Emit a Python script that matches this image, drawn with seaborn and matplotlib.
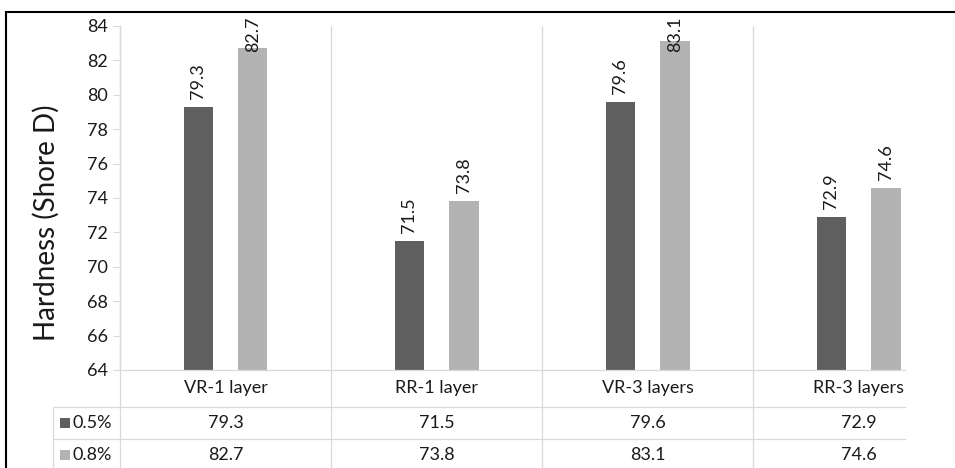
import matplotlib
matplotlib.use("Agg")
import matplotlib.pyplot as plt
import matplotlib.transforms as mtransforms
from matplotlib.patches import Rectangle
import seaborn as sns
import pandas as pd

# Data
categories = ["VR-1 layer", "RR-1 layer", "VR-3 layers", "RR-3 layers"]
series_names = ["0.5%", "0.8%"]
values_05 = [79.3, 71.5, 79.6, 72.9]
values_08 = [82.7, 73.8, 83.1, 74.6]
y_ticks = [64, 66, 68, 70, 72, 74, 76, 78, 80, 82, 84]

colors = ["#5f5f5f", "#b3b3b3"]
grid_color = "#d9d9d9"
text_color = "#1a1a1a"

df = pd.DataFrame({
    "category": categories * 2,
    "series": [series_names[0]] * 4 + [series_names[1]] * 4,
    "value": values_05 + values_08,
})

sns.set_theme(style="white")
plt.rcParams["font.family"] = ["Lato", "DejaVu Sans"]

W, H = 955, 468
fig = plt.figure(figsize=(W / 100, H / 100), dpi=100)
ax_left, ax_right, ax_top, ax_bottom = 120, 905, 26, 370
ax = fig.add_axes([ax_left / W, 1 - ax_bottom / H,
                   (ax_right - ax_left) / W, (ax_bottom - ax_top) / H])

sns.barplot(data=df, x="category", y="value", hue="series", order=categories,
            hue_order=series_names, palette=colors, width=0.52, gap=0.47,
            saturation=1, ax=ax, legend=False, edgecolor="none")

ax.set_ylim(64, 84)
ax.set_xlim(-0.5, 3.22)
ax.set_yticks(y_ticks)
ax.set_yticklabels([str(t) for t in y_ticks], fontsize=13, color=text_color)
ax.tick_params(axis="y", length=5, width=0.8, color=grid_color, pad=4, left=True)
ax.tick_params(axis="x", length=0, pad=7, labelsize=13, labelcolor=text_color)
ax.set_xlabel("")
ax.set_ylabel("")
fig.text(46 / W, 1 - 223 / H, "Hardness (Shore D)", rotation=90, ha="center",
         va="center", fontsize=20, color=text_color)

for side in ["top", "right"]:
    ax.spines[side].set_visible(False)
for side in ["left", "bottom"]:
    ax.spines[side].set_color(grid_color)
    ax.spines[side].set_linewidth(0.9)

# Vertical separators between categories, running down through the data table
bx = mtransforms.blended_transform_factory(ax.transData, ax.transAxes)
table_bottom = -0.4
for b in [-0.5, 0.5, 1.5, 2.5]:
    ax.plot([b, b], [1, table_bottom], transform=bx, color=grid_color,
            lw=0.9, clip_on=False, zorder=0)

# Data table rows
px_per_cat = (ax_right - ax_left) / (ax.get_xlim()[1] - ax.get_xlim()[0])
table_left = -0.5 + (53 - ax_left) / px_per_cat
ax_h = ax_bottom - ax_top


def ax_frac(py):
    return (ax_bottom - py) / ax_h


for py in [407, 439, 471]:
    ax.plot([table_left, ax.get_xlim()[1]], [ax_frac(py)] * 2, transform=bx,
            color=grid_color, lw=0.9, clip_on=False, zorder=0)
ax.plot([table_left, table_left], [ax_frac(407), table_bottom], transform=bx,
        color=grid_color, lw=0.9, clip_on=False, zorder=0)

row_centers = [423, 455]
for vals, name, col, py in zip([values_05, values_08], series_names, colors, row_centers):
    for i, v in enumerate(vals):
        ax.text(i, ax_frac(py), f"{v:.1f}", transform=bx, ha="center", va="center",
                fontsize=13, color=text_color, clip_on=False)
    key_x = -0.5 + (60 - ax_left) / px_per_cat
    ax.add_patch(Rectangle((key_x, ax_frac(py + 5)), 10 / px_per_cat, 10 / ax_h,
                           transform=bx, facecolor=col, edgecolor="none", clip_on=False))
    ax.text(-0.5 + (72 - ax_left) / px_per_cat, ax_frac(py), name, transform=bx,
            ha="left", va="center", fontsize=13, color=text_color, clip_on=False)

# Value labels above bars, kept inside the top of the plot area
units_per_px = 20 / ax_h
label_len = 35 * units_per_px
label_cap = 84 + 9 * units_per_px - label_len
for container, vals in zip(ax.containers, [values_05, values_08]):
    for bar, v in zip(container, vals):
        y = min(v + 8 * units_per_px, label_cap)
        ax.text(bar.get_x() + bar.get_width() / 2, y, f"{v:.1f}", rotation=90,
                ha="center", va="bottom", fontsize=13, color=text_color,
                clip_on=False)

# Outer frame
fig.patches.append(Rectangle((6 / W, -0.2), 1.2, 1.2 - 12 / H,
                             transform=fig.transFigure, fill=False,
                             edgecolor="black", linewidth=1.5))

fig.savefig("out.png", dpi=100, facecolor="white")
